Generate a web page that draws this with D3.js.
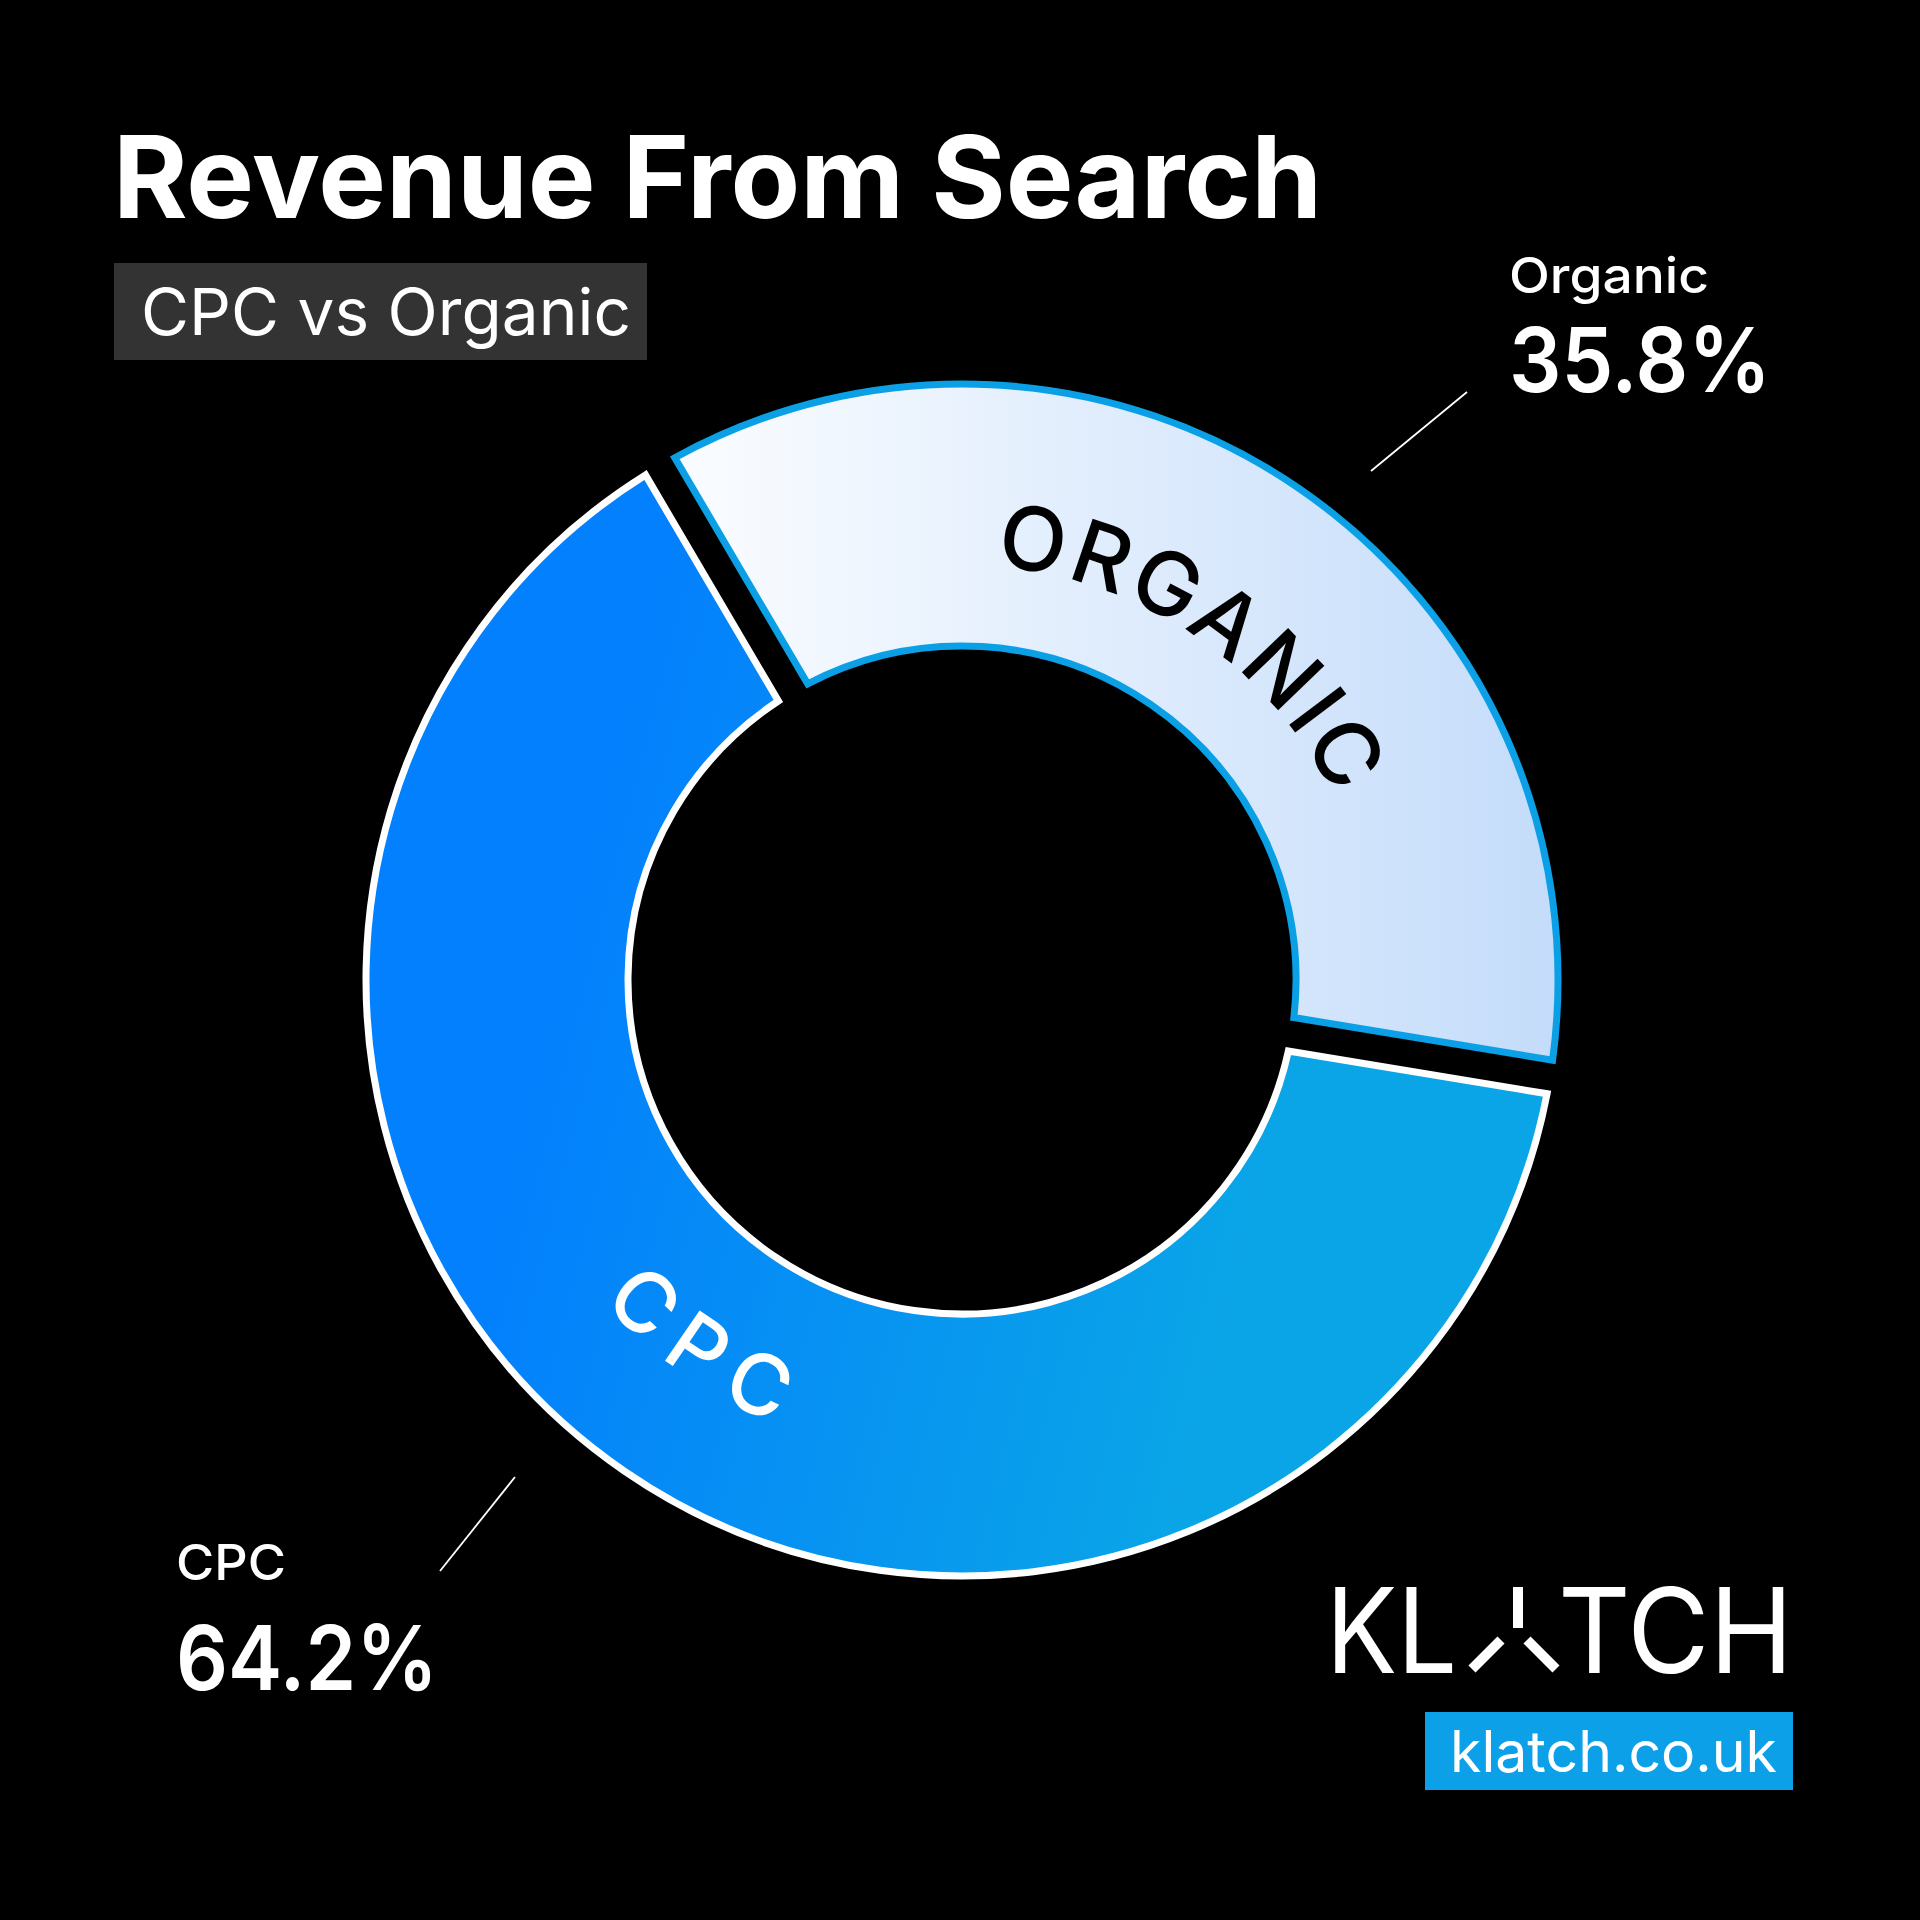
<!DOCTYPE html>
<html><head><meta charset="utf-8">
<script src="https://cdn.jsdelivr.net/npm/d3@7"></script>
<style>html,body{margin:0;padding:0;background:#000;}svg{display:block;}</style>
</head><body>
<script>
// ---- data ----
const categories = ["Organic", "CPC"];
const values = [35.8, 64.2];
const ringLabels = ["ORGANIC", "CPC"];
const title = "Revenue From Search";
const subtitle = "CPC vs Organic";
const brand = ["KL", "TCH"];
const url = "klatch.co.uk";

// ---- layout ----
const W = 1920, H = 1920;
const cx = 962, cy = 980, outerR = 596, innerR = 334;
const organicMidDeg = 34;
const fmt = d3.format(".1f");

const svg = d3.select("body").append("svg").attr("width", W).attr("height", H);
svg.append("rect").attr("width", W).attr("height", H).attr("fill", "#000");

const defs = svg.append("defs");
// gradients in the donut group's local coordinates (centre = 0,0)
const gCpc = defs.append("linearGradient").attr("id", "gCpc").attr("gradientUnits", "userSpaceOnUse")
  .attr("x1", -outerR).attr("y1", -150).attr("x2", outerR).attr("y2", 150);
gCpc.append("stop").attr("offset", 0.18).attr("stop-color", "#0380fd");
gCpc.append("stop").attr("offset", 0.78).attr("stop-color", "#0aa5e7");
const gOrg = defs.append("linearGradient").attr("id", "gOrg").attr("gradientUnits", "userSpaceOnUse")
  .attr("x1", -240).attr("y1", 0).attr("x2", outerR).attr("y2", 0);
gOrg.append("stop").attr("offset", 0).attr("stop-color", "#f8fbff");
gOrg.append("stop").attr("offset", 1).attr("stop-color", "#c4dcfa");

const fills = ["url(#gOrg)", "url(#gCpc)"];
const strokes = ["#0ba0e6", "#ffffff"];
const textColors = ["#000000", "#ffffff"];

const orgAngle = values[0] / d3.sum(values) * 2 * Math.PI;
const start = organicMidDeg * Math.PI / 180 - orgAngle / 2;
const pie = d3.pie().sort(null).value(d => d).startAngle(start).endAngle(start + 2 * Math.PI).padAngle(0.057);
const arcs = pie(values);
const arc = d3.arc().innerRadius(innerR).outerRadius(outerR).padRadius(outerR);

const g = svg.append("g").attr("transform", `translate(${cx},${cy})`);
g.selectAll("path.slice").data(arcs).join("path").attr("class", "slice")
  .attr("d", arc)
  .attr("fill", (d, i) => fills[i])
  .attr("stroke", (d, i) => strokes[i])
  .attr("stroke-width", 7)
  .attr("stroke-linejoin", "miter");

// curved labels
const font = "Inter, 'Noto Sans', sans-serif";
function pt(a, r) { return [r * Math.sin(a), -r * Math.cos(a)]; }
const ringCfg = [
  { r: 415, size: 88, ls: 4, clockwise: true, weight: 500 },
  { r: 482, size: 84, ls: 18, clockwise: false, weight: 500 }
];
arcs.forEach((d, i) => {
  const c = ringCfg[i];
  const mid = (d.startAngle + d.endAngle) / 2;
  const half = Math.PI * 0.45;
  let a0, a1;
  if (c.clockwise) { a0 = mid - half; a1 = mid + half; } else { a0 = mid + half; a1 = mid - half; }
  const p0 = pt(a0, c.r), p1 = pt(a1, c.r);
  const dstr = `M${p0[0]},${p0[1]} A${c.r},${c.r} 0 0 ${c.clockwise ? 1 : 0} ${p1[0]},${p1[1]}`;
  defs.append("path").attr("id", "tp" + i).attr("d", dstr);
  g.append("text")
    .attr("font-family", font).attr("font-size", c.size).attr("font-weight", c.weight)
    .attr("letter-spacing", c.ls).attr("fill", textColors[i])
    .append("textPath").attr("href", "#tp" + i).attr("startOffset", "50%").attr("text-anchor", "middle")
    .text(ringLabels[i]);
});

// title & subtitle
svg.append("text").attr("x", 113).attr("y", 218).attr("font-family", font).attr("font-weight", 700)
  .attr("font-size", 114).attr("fill", "#fff").attr("textLength", 1209).attr("lengthAdjust", "spacingAndGlyphs").text(title);
svg.append("rect").attr("x", 114).attr("y", 263).attr("width", 533).attr("height", 97).attr("fill", "#333333");
svg.append("text").attr("x", 141).attr("y", 335).attr("font-family", font).attr("font-weight", 400)
  .attr("font-size", 65).attr("fill", "#fff").attr("textLength", 490).attr("lengthAdjust", "spacingAndGlyphs").text(subtitle);

// outside labels
const ann = [
  { x: 1509, y1: 293, y2: 392, w1: 200, w2: 262, line: [1371, 471, 1467, 392] },
  { x: 176, y1: 1580, y2: 1690, w1: 110, w2: 262, line: [515, 1477, 440, 1571] }
];
ann.forEach((a, i) => {
  svg.append("text").attr("x", a.x).attr("y", a.y1).attr("font-family", font).attr("font-weight", 500)
    .attr("font-size", 50).attr("fill", "#fff").attr("textLength", a.w1).attr("lengthAdjust", "spacingAndGlyphs").text(categories[i]);
  svg.append("text").attr("x", a.x).attr("y", a.y2).attr("font-family", font).attr("font-weight", 600)
    .attr("font-size", 90).attr("fill", "#fff").attr("textLength", a.w2).attr("lengthAdjust", "spacingAndGlyphs").text(fmt(values[i]) + "%");
  svg.append("line").attr("x1", a.line[0]).attr("y1", a.line[1]).attr("x2", a.line[2]).attr("y2", a.line[3])
    .attr("stroke", "#fff").attr("stroke-width", 1.8);
});

// logo
svg.append("text").attr("x", 1326).attr("y", 1673).attr("font-family", font).attr("font-weight", 400)
  .attr("font-size", 118).attr("fill", "#fff").attr("textLength", 131).attr("lengthAdjust", "spacingAndGlyphs").text(brand[0]);
svg.append("text").attr("x", 1558).attr("y", 1673).attr("font-family", font).attr("font-weight", 400)
  .attr("font-size", 118).attr("fill", "#fff").attr("textLength", 235).attr("lengthAdjust", "spacingAndGlyphs").text(brand[1]);
const logoA = [[1518, 1587, 1518, 1628], [1472, 1669, 1501, 1640], [1527, 1640, 1556, 1669]];
logoA.forEach(s => svg.append("line").attr("x1", s[0]).attr("y1", s[1]).attr("x2", s[2]).attr("y2", s[3])
  .attr("stroke", "#fff").attr("stroke-width", 10));

svg.append("rect").attr("x", 1425).attr("y", 1712).attr("width", 368).attr("height", 78).attr("fill", "#0ba0e8");
svg.append("text").attr("x", 1450).attr("y", 1772).attr("font-family", font).attr("font-weight", 400)
  .attr("font-size", 57).attr("fill", "#fff").attr("textLength", 327).attr("lengthAdjust", "spacingAndGlyphs").text(url);
</script>
</body></html>
